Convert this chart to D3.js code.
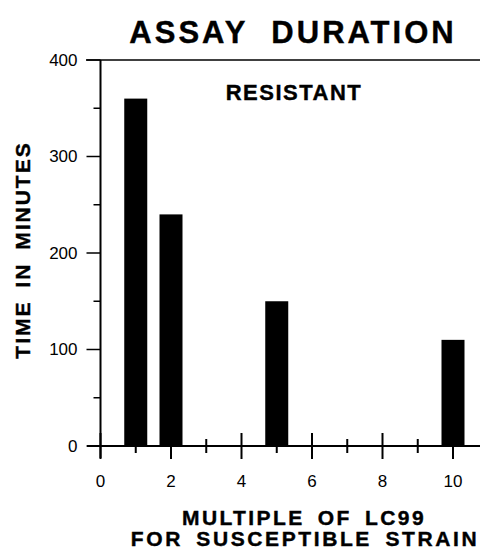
<!DOCTYPE html>
<html lang="en">
<head>
  <meta charset="UTF-8" />
  <title>Assay Duration</title>
  <script src="https://d3js.org/d3.v7.min.js"></script>
  <style>
    body {
      margin: 0;
      background-color: #fff;
    }
    svg {
      display: block;
      font-family: 'Liberation Sans', Arial, sans-serif;
    }
    .bold {
      font-weight: bold;
      stroke: #000;
      stroke-width: 0.4px;
    }
  </style>
</head>
<body>
  <svg width="485" height="554"></svg>
  <script>
    // data
    const multiples = [1, 2, 5, 10];
    const minutes = [360, 240, 150, 110];
    const xTicks = [0, 2, 4, 6, 8, 10];
    const xMinorTicks = [1, 3, 5, 7, 9];
    const yTicks = [0, 100, 200, 300, 400];
    const yMinorTicks = [50, 150, 250, 350];

    const svg = d3.select("svg");

    const x = d3.scaleLinear().domain([0, 10]).range([100.5, 453]);
    const y = d3.scaleLinear().domain([0, 400]).range([446, 60]);
    const barW = 23;

    // top frame line
    svg.append("line")
      .attr("x1", 86).attr("x2", 480)
      .attr("y1", y(400)).attr("y2", y(400))
      .attr("stroke", "#000").attr("stroke-width", 1.5);

    // bars
    svg.selectAll("rect.bar")
      .data(multiples)
      .enter()
      .append("rect")
      .attr("class", "bar")
      .attr("x", d => x(d) - barW / 2)
      .attr("y", (d, i) => y(minutes[i]))
      .attr("width", barW)
      .attr("height", (d, i) => y(0) - y(minutes[i]))
      .attr("fill", "#000");

    // y axis
    const yAxis = svg.append("g").attr("transform", `translate(${x(0)},0)`);
    yAxis.append("line")
      .attr("y1", y(400)).attr("y2", 458)
      .attr("stroke", "#000").attr("stroke-width", 2);
    yAxis.selectAll(".ymaj")
      .data(yTicks)
      .enter()
      .append("line")
      .attr("x1", -14).attr("x2", 0)
      .attr("y1", d => y(d)).attr("y2", d => y(d))
      .attr("stroke", "#000").attr("stroke-width", 1.5);
    yAxis.selectAll(".ymin")
      .data(yMinorTicks)
      .enter()
      .append("line")
      .attr("x1", -7).attr("x2", 0)
      .attr("y1", d => y(d)).attr("y2", d => y(d))
      .attr("stroke", "#000").attr("stroke-width", 1.5);
    yAxis.selectAll("text")
      .data(yTicks)
      .enter()
      .append("text")
      .attr("x", -23)
      .attr("y", d => y(d))
      .attr("dy", "0.35em")
      .attr("text-anchor", "end")
      .attr("font-size", 17)
      .text(d => d);

    // x axis
    const xAxis = svg.append("g").attr("transform", `translate(0,${y(0)})`);
    xAxis.append("line")
      .attr("x1", 87).attr("x2", 480)
      .attr("stroke", "#000").attr("stroke-width", 2);
    xAxis.selectAll(".xmaj")
      .data(xTicks)
      .enter()
      .append("line")
      .attr("x1", d => x(d)).attr("x2", d => x(d))
      .attr("y1", -13).attr("y2", 13)
      .attr("stroke", "#000").attr("stroke-width", 2);
    xAxis.selectAll(".xmin")
      .data(xMinorTicks)
      .enter()
      .append("line")
      .attr("x1", d => x(d)).attr("x2", d => x(d))
      .attr("y1", -7).attr("y2", 7)
      .attr("stroke", "#000").attr("stroke-width", 2);
    xAxis.selectAll("text")
      .data(xTicks)
      .enter()
      .append("text")
      .attr("x", d => x(d))
      .attr("y", 41)
      .attr("text-anchor", "middle")
      .attr("font-size", 17)
      .text(d => d);

    // titles
    svg.append("text")
      .attr("class", "bold")
      .attr("x", 293).attr("y", 43)
      .attr("text-anchor", "middle")
      .attr("font-size", 31)
      .attr("letter-spacing", 3)
      .attr("word-spacing", 12)
      .text("ASSAY DURATION");

    svg.append("text")
      .attr("class", "bold")
      .attr("x", 294).attr("y", 100)
      .attr("text-anchor", "middle")
      .attr("font-size", 22)
      .attr("letter-spacing", 1.5)
      .text("RESISTANT");

    svg.append("text")
      .attr("class", "bold")
      .attr("transform", "translate(30,250) rotate(-90)")
      .attr("text-anchor", "middle")
      .attr("font-size", 21)
      .attr("letter-spacing", 2)
      .attr("word-spacing", 5)
      .text("TIME IN MINUTES");

    svg.append("text")
      .attr("class", "bold")
      .attr("x", 304).attr("y", 525)
      .attr("text-anchor", "middle")
      .attr("font-size", 21)
      .attr("letter-spacing", 2.4)
      .attr("word-spacing", 5)
      .text("MULTIPLE OF LC99");

    svg.append("text")
      .attr("class", "bold")
      .attr("x", 305).attr("y", 546)
      .attr("text-anchor", "middle")
      .attr("font-size", 21)
      .attr("letter-spacing", 2.6)
      .attr("word-spacing", 5)
      .text("FOR SUSCEPTIBLE STRAIN");
  </script>
</body>
</html>
